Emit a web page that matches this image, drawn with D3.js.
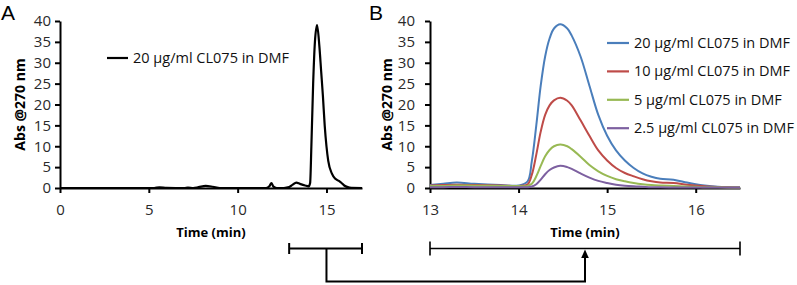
<!DOCTYPE html>
<html>
<head>
<meta charset="utf-8">
<script src="https://cdn.jsdelivr.net/npm/d3@7/dist/d3.min.js"></script>
<style>
  html, body { margin: 0; padding: 0; background: #fff; }
  svg { display: block; font-family: "Open Sans", sans-serif; }
  .axis path, .axis line { stroke: #000; stroke-width: 2; }
  .axis text { font-size: 15px; fill: #2a2a2a; font-family: "Open Sans", sans-serif; }
</style>
</head>
<body>
<svg id="chart" width="797" height="285"></svg>
<script>
// Panel A - full chromatogram (min, Abs)
const timeA = [0, 2, 4, 5.3, 5.6, 6.0, 7.0, 7.2, 7.5, 7.8, 8.2, 8.6, 9.0, 10, 11, 11.6, 11.8, 11.9, 12.0, 12.2,
  12.6, 12.9, 13.1, 13.3, 13.5, 13.8, 14.0, 14.08, 14.15, 14.25, 14.35, 14.47, 14.6, 14.7, 14.8, 14.9, 15.0,
  15.1, 15.3, 15.5, 15.7, 15.85, 16.0, 16.2, 16.4, 17];
const absA = [0, 0, 0, 0, 0.15, 0.05, 0, 0.1, 0, 0.2, 0.5, 0.3, 0, 0, 0, 0, 0.5, 1.2, 0.4, 0,
  0, 0.2, 0.8, 1.3, 1.0, 0.6, 0.4, 1.2, 10, 25, 35, 39, 34, 28, 22, 15, 10,
  6.5, 3.5, 2.2, 1.7, 1.2, 0.6, 0.2, 0.05, 0];

// Panel B - zoom 13..16.5 min, four concentrations
const timeB = [13.0, 13.15, 13.3, 13.5, 13.8, 14.0, 14.1, 14.15, 14.2, 14.25, 14.3, 14.35, 14.4, 14.47, 14.55,
  14.6, 14.7, 14.8, 14.9, 15.0, 15.1, 15.2, 15.3, 15.4, 15.5, 15.6, 15.75, 15.9, 16.0, 16.1, 16.25, 16.5];
const abs20 = [0.7, 1.0, 1.3, 1.0, 0.7, 0.6, 1.5, 6.5, 15, 24.5, 31.5, 35.8, 38.2, 39.2, 38.2,
  36.5, 31.5, 24.5, 17.5, 12.5, 9.0, 6.6, 4.8, 3.5, 2.7, 2.2, 2.0, 1.3, 0.9, 0.6, 0.3, 0.15];
const abs10 = [0.6, 0.7, 0.8, 0.7, 0.6, 0.5, 0.8, 3.2, 8.0, 13.5, 17.5, 19.8, 21.0, 21.6, 20.9,
  19.8, 16.2, 12.5, 9.0, 6.6, 4.8, 3.6, 2.8, 2.1, 1.6, 1.3, 1.2, 0.8, 0.6, 0.4, 0.25, 0.1];
const abs5 = [0.5, 0.5, 0.6, 0.55, 0.5, 0.45, 0.5, 1.0, 2.8, 5.3, 7.6, 9.1, 10.0, 10.4, 10.0,
  9.3, 7.5, 5.5, 4.0, 2.9, 2.1, 1.6, 1.2, 0.9, 0.7, 0.6, 0.5, 0.35, 0.3, 0.2, 0.15, 0.1];
const abs2_5 = [0.2, 0.2, 0.25, 0.2, 0.2, 0.2, 0.2, 0.35, 0.9, 2.0, 3.3, 4.3, 4.9, 5.3, 5.0,
  4.6, 3.5, 2.5, 1.7, 1.2, 0.8, 0.55, 0.4, 0.3, 0.2, 0.15, 0.12, 0.1, 0.1, 0.1, 0.1, 0.1];

const labelsB = ['20 μg/ml CL075 in DMF', '10 μg/ml CL075 in DMF', '5 μg/ml CL075 in DMF', '2.5 μg/ml CL075 in DMF'];
const labelA = '20 μg/ml CL075 in DMF';

const ticksY = [0, 5, 10, 15, 20, 25, 30, 35, 40];
const ticksA = [0, 5, 10, 15];
const ticksB = [13, 14, 15, 16];

// bracket / arrow annotation (minutes)
const bracketA = [12.9, 17];
const bracketB = [13, 16.5];
const stemA = 15;
const arrowB = 14.75;

const colorsB = ['#4a7ebb', '#be4b48', '#98b954', '#7d60a0'];

const svg = d3.select('#chart');

const y = d3.scaleLinear().domain([0, 40]).range([188, 21]);
const xA = d3.scaleLinear().domain([0, 17]).range([60, 362]);
const xB = d3.scaleLinear().domain([13, 16.5]).range([430, 740]);

function drawAxes(x, ticksX, padY, labelX) {
  svg.append('g')
    .attr('class', 'axis')
    .attr('transform', `translate(0,${y(0)})`)
    .call(d3.axisBottom(x).tickValues(ticksX).tickFormat(d3.format('d'))
      .tickSize(5).tickSizeOuter(0).tickPadding(11));

  svg.append('g')
    .attr('class', 'axis')
    .attr('transform', `translate(${x.range()[0]},0)`)
    .call(d3.axisLeft(y).tickValues(ticksY).tickFormat(d3.format('d'))
      .tickSize(5).tickSizeOuter(0).tickPadding(padY));

  const cx = (x.range()[0] + x.range()[1]) / 2;
  svg.append('text')
    .attr('x', cx).attr('y', 237)
    .attr('text-anchor', 'middle')
    .style('font-size', '13px').style('font-weight', 'bold')
    .text('Time (min)');

  svg.append('text')
    .attr('transform', `translate(${labelX},${(y(0) + y(40)) / 2}) rotate(-90)`)
    .attr('text-anchor', 'middle')
    .attr('dy', '0.35em')
    .style('font-size', '14px').style('font-weight', 'bold')
    .text('Abs @270 nm');
}

drawAxes(xA, ticksA, 4, 20);
drawAxes(xB, ticksB, 10, 387);

// panel letters
svg.append('text').attr('x', 1).attr('y', 20)
  .style('font-family', '"Liberation Sans", sans-serif').style('font-size', '21px').text('A');
svg.append('text').attr('x', 369).attr('y', 20)
  .style('font-family', '"Liberation Sans", sans-serif').style('font-size', '21px').text('B');

// panel A curve
const lineA = d3.line()
  .x((d, i) => xA(timeA[i]))
  .y(d => y(d))
  .curve(d3.curveMonotoneX);

svg.append('path')
  .datum(absA)
  .attr('d', lineA)
  .attr('fill', 'none')
  .attr('stroke', '#000')
  .attr('stroke-width', 2.2);

svg.append('line')
  .attr('x1', 107).attr('x2', 128).attr('y1', 58).attr('y2', 58)
  .attr('stroke', '#000').attr('stroke-width', 2.2);
svg.append('text')
  .attr('x', 133).attr('y', 58).attr('dy', '0.35em')
  .style('font-size', '14.5px').attr('fill', '#111')
  .text(labelA);

// panel B curves
const lineB = d3.line()
  .x((d, i) => xB(timeB[i]))
  .y(d => y(d))
  .curve(d3.curveCatmullRom.alpha(0.5));

const seriesB = [abs20, abs10, abs5, abs2_5];
svg.append('g').selectAll('path')
  .data(seriesB)
  .enter().append('path')
  .attr('d', lineB)
  .attr('fill', 'none')
  .attr('stroke', (d, i) => colorsB[i])
  .attr('stroke-width', 2);

// legend B
const legend = svg.append('g').attr('transform', 'translate(607,43)');
labelsB.forEach((lab, i) => {
  const g = legend.append('g').attr('transform', `translate(0,${i * 28.4})`);
  g.append('line')
    .attr('x1', 0).attr('x2', 22)
    .attr('stroke', colorsB[i]).attr('stroke-width', 2.2);
  g.append('text')
    .attr('x', 27).attr('dy', '0.35em')
    .style('font-size', '14.5px').attr('fill', '#111')
    .text(lab);
});

// zoom bracket and arrow
const by = 248.5;
const ly = 281.5;
function bracket(x0, x1, w, h) {
  svg.append('path')
    .attr('d', `M${x0},${by - h}V${by + h}M${x0},${by}H${x1}M${x1},${by - h}V${by + h}`)
    .attr('fill', 'none').attr('stroke', '#000').attr('stroke-width', w);
}
bracket(xA(bracketA[0]), xA(bracketA[1]), 2, 5.5);
bracket(xB(bracketB[0]), xB(bracketB[1]), 1.6, 7);

const ax = xB(arrowB);
svg.append('path')
  .attr('d', `M${xA(stemA)},${by}V${ly}H${ax}V${by + 8}`)
  .attr('fill', 'none').attr('stroke', '#000').attr('stroke-width', 2);
svg.append('path')
  .attr('d', `M${ax},${by + 1}L${ax - 3.8},${by + 9.5}L${ax + 3.8},${by + 9.5}Z`)
  .attr('fill', '#000');
</script>
</body>
</html>
